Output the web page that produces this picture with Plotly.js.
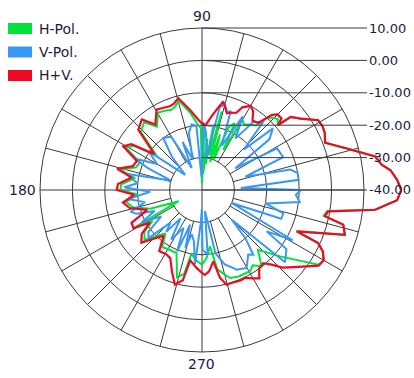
<!DOCTYPE html>
<html>
<head>
<meta charset="utf-8">
<script src="https://cdn.plot.ly/plotly-3.0.1.min.js"></script>
<style>
html,body{margin:0;padding:0;background:#fff;width:414px;height:378px;overflow:hidden;position:relative;}
#chart{position:absolute;left:-40px;top:-40px;width:494px;height:458px;}
</style>
</head>
<body>
<div id="chart"></div>
<script>
// ---- data (dB vs. angle in degrees) ----
const seriesNames = ['H-Pol.', 'V-Pol.', 'H+V.'];

const hTheta = [0,3,6,8,11,16,21,25,28,31,36,39.5,40.5,43,45,48,50,54,57,60,62,64,67,69,72,74,76,78,80,82,84,86,88,90,91,94,98.5,104.5,108,111,115,119.5,125.5,130.5,136.5,143,147,151,156,161,166,170,176,180,184,189,194,200,205.5,209,212,216,221,227,230,235,241,248,254,258,260.5,266,270,274,278,281,287.7,293,300.6,304,308,313,315,319.6,327.3,330,333,335.5,336.4,342.6,346.2,348,350.4,353.5,357,360];
const hR     = [21.5,20.3,18.5,16,14.4,6.5,0.7,1.8,2.1,1.8,-2.5,-4.6,-9.3,-8,-8.5,-10,-14,-15,-16,-15,-26,-17,-19,-30,-22,-31,-15,-29,-20,-32,-24,-35,-21,-38,-21,-19.5,-16,-11.5,-13,-13.5,-13,-12.5,-16,-12.5,-14,-22.5,-15,-13.2,-19,-18.5,-14,-19,-15,-14.8,-20,-16.3,-18,-23,-32,-17,-22,-18,-16.5,-21,-22.5,-18.5,-19,-19,-12,-13.5,-20,-18,-17,-19,-22.5,-15,-11.5,-11,-10.9,-12,-10.1,-14.7,-13.2,-8.4,2.7,3.3,1.8,-0.7,-8.2,6.2,4.9,-1.6,-0.9,13.8,20.3,21.5];

const vTheta = [0,3,6,10,13,17,22,29,33,37,41,44,48,53,57,61,66,70,72,75,78,82,86,89,92,95,99,103,107,112,115,120,126.7,132,138,144,150,155,158,163,168,174,178,182,187,192,197,200,204,208,213,218,222,226,229.5,233,238,244,248,251,254,257,261,264.6,268,269.5,270.5,275,278,282,287,292,293.5,299.8,305.6,308.4,312,315,319,325,327.4,331,336.4,340,344,348,353,357,360];
const vR     = [-9.5,-28,-10,-10,-12,-26,-13,-13.5,-27.8,-14,-11,-22,-12,-13.6,-21,-14,-25,-14,-15.2,-12.5,-14,-30,-22,-19,-36,-20,-19.5,-22,-30,-24,-32.5,-21,-20,-26,-33,-19.6,-24,-17,-22,-30,-16,-20,-16,-24,-17,-22,-17,-18.5,-24,-19,-25,-19,-17.8,-26,-23,-29,-22,-27,-19.5,-28.7,-21.4,-26,-24,-17,-30,-34,-21.5,-20,-33.4,-20,-16,-14,-13.2,-12.3,-15.5,-14.5,-20,-27,-6,-8.2,-16.3,-8,-30,-14,-13.9,-20,-9.6,-11,-9.5];

const hvTheta = [0,3,6,8,11,16,21,25,28,31,36,39.5,40.5,42,45,47,50,54,57,60,64,66,72,76.5,79,82.5,87,90,93,98.5,104.5,108,111,115,119.5,125.5,130.5,136.5,143,147,151,156,161,166,170,176,180,184,189,194,200,205,209,212,216,221,227,230,235,241,245,250,254,258,260.5,266,270,272,275,279,281.6,284.6,288,293,296,300,303,306,310,313,316,320,327,330,333,335.5,336.4,342.6,346.2,348,350.4,353.5,357,360];
const hvR     = [21.5,20.3,18.5,16,14.4,6.5,0.7,1.8,2.1,1.8,-2.5,-4.5,-9.1,-7,-7,-8.3,-13,-13.5,-11,-10,-11.6,-13.9,-15,-11.9,-14.2,-17,-20,-19.5,-18.3,-15,-10.7,-12,-12.3,-12,-11.5,-15.2,-11.4,-12.9,-21.5,-14,-12.2,-18,-17.4,-13,-18,-14,-13.7,-19,-15.3,-17,-22,-16,-15.8,-21,-17,-15.2,-20,-21.5,-17,-17.3,-16.8,-13,-9.6,-11.5,-18,-15.9,-14.4,-13.8,-14.8,-17.7,-12.3,-9.8,-9.9,-9.7,-9.8,-8.5,-7.5,-10,-10.5,-8.5,-5.5,-3,2.9,3.4,1.9,-0.6,-8.1,6.2,4.9,-1.2,-0.5,13.8,20.3,21.5];

const radialTickVals = [10, 0, -10, -20, -30, -40];
const radialTickText = ['10.00', '0.00', '-10.00', '-20.00', '-30.00', '-40.00'];
const angularTickVals = [90, 180, 270];
const angularTickText = ['90', '180', '270'];

// ---- styling / geometry ----
const VW = 414, VH = 378, PAD = 40;          // visible window and hidden padding
const W = VW + 2 * PAD, H = VH + 2 * PAD;    // plotly canvas
const CX = 202, CY = 190, RAD = 162;         // centre / radius of the 10 dB circle (window px)
const RMIN = -40, RMAX = 10, REXT = 22;      // axis range (extended so the big lobe isn't clipped)
const RADEXT = RAD * (REXT - RMIN) / (RMAX - RMIN);
const colors = ['#00e23c', '#3a98f5', '#ee0a22'];
const gridCol = '#3a3a3a';
const txtCol = '#1b1b3a';
const fontFam = 'DejaVu Sans';

// spokes every 15 degrees (cardinal ones reach the centre)
const spokeR = [], spokeT = [];
for (let a = 0; a < 360; a += 15) {
  spokeR.push(a % 90 === 0 ? RMIN : -30, RMAX, null);
  spokeT.push(a, a, null);
}

const traces = [
  {type: 'scatterpolar', mode: 'lines', r: spokeR, theta: spokeT, line: {color: gridCol, width: 1}, hoverinfo: 'skip', showlegend: false},
  {type: 'scatterpolar', mode: 'lines', name: seriesNames[0], r: hR, theta: hTheta, line: {color: colors[0], width: 2}, showlegend: false},
  {type: 'scatterpolar', mode: 'lines', name: seriesNames[1], r: vR, theta: vTheta, line: {color: colors[1], width: 2}, showlegend: false},
  {type: 'scatterpolar', mode: 'lines', name: seriesNames[2], r: hvR, theta: hvTheta, line: {color: colors[2], width: 2.2}, showlegend: false}
];

const px2x = p => (p + PAD) / W;
const px2y = p => (H - (p + PAD)) / H;
const valToY = v => CY - (v - RMIN) * RAD / (RMAX - RMIN);

const shapes = [];
const annotations = [];
radialTickVals.forEach((v, i) => {
  const y = valToY(v);
  shapes.push({type: 'line', xref: 'paper', yref: 'paper', x0: px2x(CX), x1: px2x(367), y0: px2y(y), y1: px2y(y), line: {color: gridCol, width: 1}});
  annotations.push({xref: 'paper', yref: 'paper', x: px2x(367), y: px2y(y), xanchor: 'left', yanchor: 'middle', text: radialTickText[i], showarrow: false, font: {family: fontFam, size: 13, color: txtCol}});
});
// angular labels just outside the 10 dB circle
angularTickVals.forEach((a, i) => {
  const rad = a * Math.PI / 180;
  const gap = 12;
  const x = CX + (RAD + gap) * Math.cos(rad);
  const y = CY - (RAD + gap) * Math.sin(rad);
  annotations.push({xref: 'paper', yref: 'paper', x: px2x(a === 180 ? CX - RAD - 2 : x), y: px2y(y), xanchor: a === 180 ? 'right' : 'center', yanchor: 'middle', text: angularTickText[i], showarrow: false, font: {family: fontFam, size: 14, color: txtCol}});
});
// legend
seriesNames.forEach((n, i) => {
  const yc = 28.5 + i * 23.5;
  shapes.push({type: 'rect', xref: 'paper', yref: 'paper', x0: px2x(8), x1: px2x(32), y0: px2y(yc - 5.5), y1: px2y(yc + 5.5), fillcolor: colors[i], line: {width: 0}});
  annotations.push({xref: 'paper', yref: 'paper', x: px2x(37), y: px2y(yc), xanchor: 'left', yanchor: 'middle', text: n, showarrow: false, font: {family: fontFam, size: 14, color: txtCol}});
});

const layout = {
  width: W, height: H,
  margin: {l: 0, r: 0, t: 0, b: 0},
  paper_bgcolor: '#fff', plot_bgcolor: '#fff',
  showlegend: false,
  polar: {
    domain: {x: [px2x(CX - RADEXT), px2x(CX + RADEXT)], y: [px2y(CY + RADEXT), px2y(CY - RADEXT)]},
    bgcolor: 'rgba(0,0,0,0)',
    radialaxis: {range: [RMIN, REXT], tickvals: [-30, -20, -10, 0, 10], showticklabels: false, ticks: '', showline: false, gridcolor: gridCol, gridwidth: 1},
    angularaxis: {rotation: 0, direction: 'counterclockwise', showgrid: false, showline: false, ticks: '', showticklabels: false}
  },
  shapes: shapes,
  annotations: annotations
};

Plotly.newPlot('chart', traces, layout, {staticPlot: true, displayModeBar: false});
</script>
</body>
</html>
